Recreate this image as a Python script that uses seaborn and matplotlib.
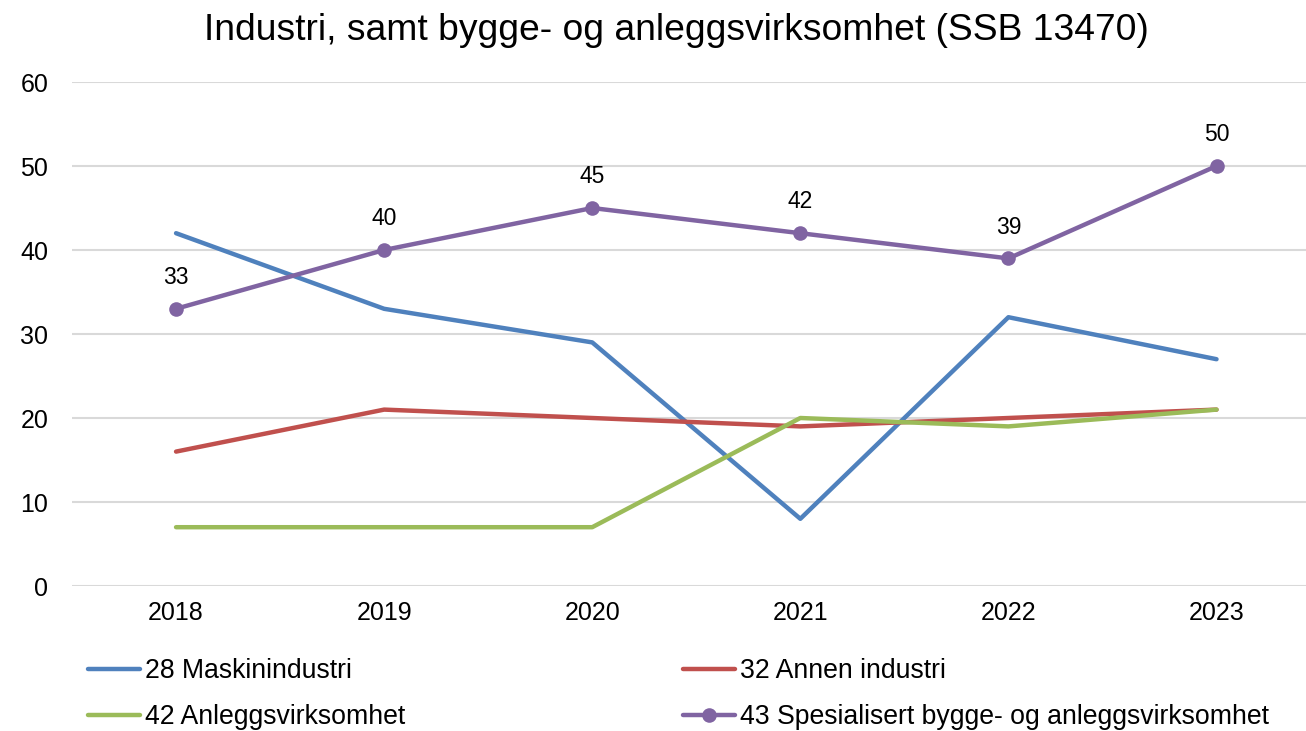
import pandas as pd
import numpy as np
import matplotlib.pyplot as plt
import seaborn as sns

# data
years = [2018, 2019, 2020, 2021, 2022, 2023]
maskin = [42, 33, 29, 8, 32, 27]
annen = [16, 21, 20, 19, 20, 21]
anlegg = [7, 7, 7, 20, 19, 21]
spesial = [33, 40, 45, 42, 39, 50]

series_names = ['28 Maskinindustri', '32 Annen industri',
                '42 Anleggsvirksomhet',
                '43 Spesialisert bygge- og anleggsvirksomhet']
colors = ['#4F81BD', '#C0504D', '#9BBB59', '#8064A2']

sns.set_style('white')
plt.rcParams['font.family'] = ['Liberation Sans', 'DejaVu Sans']
plt.rcParams['text.color'] = 'black'
plt.rcParams['xtick.color'] = 'black'
plt.rcParams['ytick.color'] = 'black'

fig = plt.figure(figsize=(13.06, 7.31), dpi=100)
ax = fig.add_axes([72 / 1306, 1 - 586 / 731, 1 - 72 / 1306, (586 - 82) / 731])

all_values = [maskin, annen, anlegg, spesial]
for name, vals, col in zip(series_names, all_values, colors):
    df = pd.DataFrame({'År': years, 'Verdi': vals})
    if name.startswith('43'):
        sns.lineplot(data=df, x='År', y='Verdi', ax=ax, color=col, linewidth=3.2,
                     marker='o', markersize=10.5, markeredgewidth=0, label=name)
    else:
        sns.lineplot(data=df, x='År', y='Verdi', ax=ax, color=col, linewidth=3.2,
                     label=name)

# data labels on purple series
for x, y in zip(years, spesial):
    ax.annotate(str(y), (x, y), xytext=(0, 22.5), textcoords='offset points',
                ha='center', va='center', fontsize=16.5)

ax.set_xlim(2017.5, 2023.43)
ax.set_ylim(0, 60)
ax.set_yticks(range(0, 61, 10))
ax.set_xticks(years)
ax.set_xticklabels([str(y) for y in years])
ax.tick_params(axis='both', labelsize=18, length=0)
ax.tick_params(axis='x', pad=11)
ax.tick_params(axis='y', pad=17)
ax.grid(axis='y', color='#D9D9D9', linewidth=1.5)
ax.set_axisbelow(True)
for s in ax.spines.values():
    s.set_visible(False)
ax.set_xlabel('')
ax.set_ylabel('')

ax.get_legend().remove()
handles, labels = ax.get_legend_handles_labels()
order = [0, 2, 1, 3]
fig.legend([handles[i] for i in order], [labels[i] for i in order], ncol=2,
           loc='center left', frameon=False,
           bbox_to_anchor=(88 / 1306, 1 - 694 / 731), borderaxespad=0, borderpad=0,
           fontsize=19.2, handlelength=1.95, handletextpad=0.2, columnspacing=10.4,
           labelspacing=0.75)

fig.text(676 / 1306, 1 - 30 / 731,
         'Industri, samt bygge- og anleggsvirksomhet (SSB 13470)',
         fontsize=26.8, ha='center', va='center')

plt.savefig('out.png', dpi=100)
